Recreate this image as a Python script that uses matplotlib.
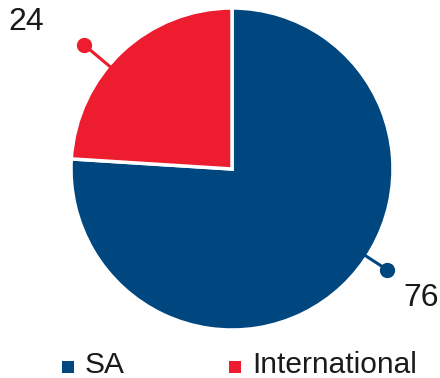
import numpy as np
import matplotlib.pyplot as plt

plt.rcParams['font.family'] = ['Liberation Sans', 'DejaVu Sans']

# share of students by origin
labels = ["SA", "International"]
values = [76, 24]
colors = ["#00467F", "#ED1C2E"]
# where each value callout sits (degrees, counterclockwise from 3 o'clock)
callout_angles = [-33, 140]
label_angles = [-34.2, 144.4]
dot_r = [1.15, 1.2]
text_r = [1.42, 1.57]

W, H = 440, 378
fig = plt.figure(figsize=(W / 100, H / 100), dpi=100)
ax = fig.add_axes([0, 0, 1, 1])

cx, cy, R = 232, H - 169, 161
ax.pie(values, colors=colors, startangle=90, counterclock=False,
       center=(cx, cy), radius=R, frame=True,
       wedgeprops=dict(edgecolor="white", linewidth=2.5))
ax.set_xlim(0, W)
ax.set_ylim(0, H)
ax.set_aspect("equal")
ax.axis("off")

for v, c, a, la, dr, tr in zip(values, colors, callout_angles, label_angles, dot_r, text_r):
    t = np.deg2rad(a)
    ux, uy = np.cos(t), np.sin(t)
    ax.plot([cx + R * 0.97 * ux, cx + R * dr * ux], [cy + R * 0.97 * uy, cy + R * dr * uy],
            color=c, lw=2.2, solid_capstyle="butt", zorder=3)
    ax.plot(cx + R * dr * ux, cy + R * dr * uy, "o", color=c, ms=11, mew=0, zorder=4)
    tl = np.deg2rad(la)
    ax.text(cx + R * tr * np.cos(tl), cy + R * tr * np.sin(tl), str(v), fontsize=23,
            color="#1a1a1a", ha="center", va="center")

# legend along the bottom
leg_x = [68, 235]
for lab, c, x in zip(labels, colors, leg_x):
    ax.plot(x, H - 367, "s", color=c, ms=8, mew=0)
    ax.text(x + 17, H - 373, lab, fontsize=21.5, color="#1a1a1a", ha="left", va="baseline")

fig.savefig("out.png", dpi=100)
